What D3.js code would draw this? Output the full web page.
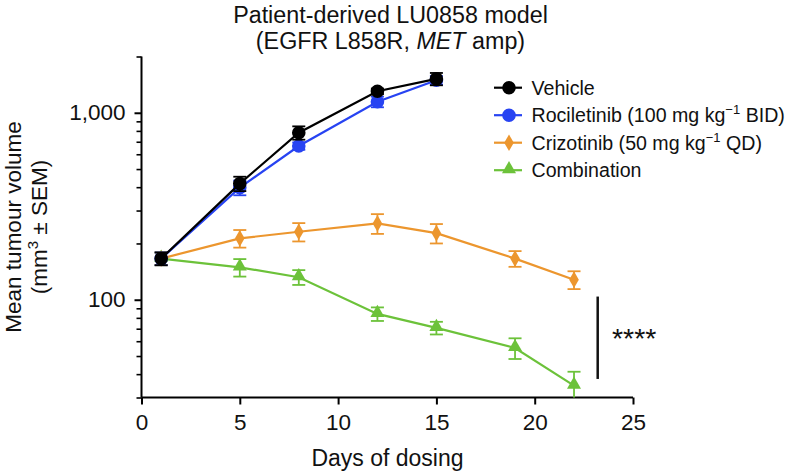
<!DOCTYPE html>
<html>
<head>
<meta charset="utf-8">
<script src="https://cdn.jsdelivr.net/npm/d3@7"></script>
<style>
  html, body { margin: 0; padding: 0; background: #fff; }
  svg { display: block; font-family: "Liberation Sans", Arial, Helvetica, sans-serif; }
</style>
</head>
<body>
<svg id="chart" width="788" height="472"></svg>
<script>
// ---- data ----
const days = [1, 5, 8, 12, 15, 19, 22];
const seriesNames = ["Vehicle", "Rociletinib", "Crizotinib", "Combination"];
const vehicle = [166, 418, 782, 1304, 1518];
const vehicleSem = [13, 37, 64, 45, 115];
const rociletinib = [166, 398, 664, 1145, 1493];
const rociletinibSem = [13, 36, 30, 75, 80];
const crizotinib = [166, 213, 231, 256, 227, 166, 128];
const crizotinibSem = [13, 23, 26, 31, 27, 16, 14];
const combination = [166, 149, 132, 84, 70.7, 55.2, 34.7];
const combinationSem = [13, 16, 12, 7, 5.5, 7, 6.5];
const xTicks = [0, 5, 10, 15, 20, 25];
const yMajorTicks = [100, 1000];
const yMinorTicks = [30, 40, 50, 60, 70, 80, 90, 200, 300, 400, 500, 600, 700, 800, 900, 2000];
const sigRange = [104, 37.7];

const svg = d3.select("#chart");
const x = d3.scaleLinear().domain([0, 25]).range([141.5, 633]);
const y = d3.scaleLog().domain([30, 2000]).range([397.5, 56.5]);

const colors = ["#000000", "#2743f2", "#ec962e", "#6cc23a"];
const series = [
  { name: seriesNames[0], vals: vehicle, sem: vehicleSem, color: colors[0], shape: "circle" },
  { name: seriesNames[1], vals: rociletinib, sem: rociletinibSem, color: colors[1], shape: "circle" },
  { name: seriesNames[2], vals: crizotinib, sem: crizotinibSem, color: colors[2], shape: "diamond" },
  { name: seriesNames[3], vals: combination, sem: combinationSem, color: colors[3], shape: "triangle" }
];

// ---- title ----
const title = svg.append("text").attr("text-anchor", "middle").attr("font-size", 23.3).attr("fill", "#111");
title.append("tspan").attr("x", 390.5).attr("y", 22.7).text("Patient-derived LU0858 model");
const t2 = title.append("tspan").attr("x", 390.5).attr("y", 48.5);
t2.append("tspan").text("(EGFR L858R, ");
t2.append("tspan").attr("font-style", "italic").text("MET");
t2.append("tspan").text(" amp)");

// ---- axes ----
const gx = svg.append("g").attr("transform", "translate(0,397.5)")
  .call(d3.axisBottom(x).tickValues(xTicks).tickSize(7).tickPadding(10).tickFormat(d3.format("d")));
gx.select(".domain").attr("stroke-width", 2).attr("d", `M${x(0)},0H${x(25)}`);
gx.selectAll(".tick line").attr("stroke-width", 2);
gx.selectAll(".tick text").attr("font-size", 22.5).attr("font-family", "Liberation Sans, Arial, sans-serif").attr("fill", "#111");

const gy = svg.append("g").attr("transform", "translate(141.5,0)")
  .call(d3.axisLeft(y).tickValues(yMajorTicks).tickSize(7).tickPadding(9).tickFormat(d3.format(",")));
gy.select(".domain").attr("stroke-width", 2).attr("d", `M0,${y(30)}V${y(2000)}`);
gy.selectAll(".tick line").attr("stroke-width", 2);
gy.selectAll(".tick text").attr("font-size", 22.5).attr("font-family", "Liberation Sans, Arial, sans-serif").attr("fill", "#111");
const gyMinor = svg.append("g").attr("transform", "translate(141.5,0)")
  .call(d3.axisLeft(y).tickValues(yMinorTicks).tickSize(5).tickFormat(""));
gyMinor.select(".domain").remove();
gyMinor.selectAll(".tick line").attr("stroke-width", 1.6);

// axis labels
svg.append("text").attr("x", 387.5).attr("y", 466).attr("text-anchor", "middle")
  .attr("font-size", 23).attr("fill", "#111").text("Days of dosing");
const yl = svg.append("text").attr("transform", "translate(0,227) rotate(-90)")
  .attr("text-anchor", "middle").attr("font-size", 22.5).attr("fill", "#111");
yl.append("tspan").attr("x", 0).attr("y", 20.5).text("Mean tumour volume");
const yl2 = yl.append("tspan").attr("x", 0).attr("y", 46.5);
yl2.append("tspan").text("(mm");
yl2.append("tspan").attr("font-size", 15).attr("dy", -9).text("3");
yl2.append("tspan").attr("dy", 9).text(" ± SEM)");

// ---- marks ----
const symbolFor = (shape) => {
  if (shape === "circle") return d3.symbol().type(d3.symbolCircle).size(Math.PI * 6.8 * 6.8);
  if (shape === "diamond") return d3.symbol().type(d3.symbolDiamond).size(80);
  return d3.symbol().type(d3.symbolTriangle).size(85);
};

const line = d3.line().x(d => x(d.day)).y(d => y(d.v));
const plot = svg.append("g");
[...series].reverse().forEach(s => {
  const pts = s.vals.map((v, i) => ({ day: days[i], v, sem: s.sem[i] }));
  const g = plot.append("g");
  // error bars
  const eb = g.selectAll("g.eb").data(pts).join("g");
  eb.append("line")
    .attr("x1", d => x(d.day)).attr("x2", d => x(d.day))
    .attr("y1", d => y(Math.max(30, d.v - d.sem))).attr("y2", d => y(d.v + d.sem))
    .attr("stroke", s.color).attr("stroke-width", 1.8);
  eb.append("line")
    .attr("x1", d => x(d.day) - 6.5).attr("x2", d => x(d.day) + 6.5)
    .attr("y1", d => y(d.v + d.sem)).attr("y2", d => y(d.v + d.sem))
    .attr("stroke", s.color).attr("stroke-width", 1.8);
  eb.filter(d => d.v - d.sem > 30).append("line")
    .attr("x1", d => x(d.day) - 6.5).attr("x2", d => x(d.day) + 6.5)
    .attr("y1", d => y(d.v - d.sem)).attr("y2", d => y(d.v - d.sem))
    .attr("stroke", s.color).attr("stroke-width", 1.8);
  g.append("path").datum(pts).attr("d", line).attr("fill", "none")
    .attr("stroke", s.color).attr("stroke-width", 2.2);
  g.selectAll("path.pt").data(pts).join("path").attr("class", "pt")
    .attr("transform", d => `translate(${x(d.day)},${y(d.v) + (s.shape === "triangle" ? -1 : 0)})`)
    .attr("d", symbolFor(s.shape)).attr("fill", s.color);
});

// significance
svg.append("line").attr("x1", 597.7).attr("x2", 597.7)
  .attr("y1", y(sigRange[0])).attr("y2", y(sigRange[1]))
  .attr("stroke", "#111").attr("stroke-width", 2.5);
svg.append("text").attr("x", 612).attr("y", 348).attr("font-size", 28.5).attr("fill", "#111").text("****");

// ---- legend ----
const legendLabels = [
  [{ t: "Vehicle" }],
  [{ t: "Rociletinib (100 mg kg" }, { t: "−1", sup: true }, { t: " BID)" }],
  [{ t: "Crizotinib (50 mg kg" }, { t: "−1", sup: true }, { t: " QD)" }],
  [{ t: "Combination" }]
];
const legend = svg.append("g");
series.forEach((s, i) => {
  const cy = 87.7 + i * 27.5;
  const g = legend.append("g");
  g.append("line").attr("x1", 494).attr("x2", 522).attr("y1", cy).attr("y2", cy)
    .attr("stroke", s.color).attr("stroke-width", 2.2);
  g.append("path").attr("transform", `translate(509,${cy + (s.shape === "triangle" ? -1 : 0)})`)
    .attr("d", symbolFor(s.shape)).attr("fill", s.color);
  const txt = g.append("text").attr("x", 531.5).attr("y", cy + 7).attr("font-size", 19.6).attr("fill", "#111");
  legendLabels[i].forEach(part => {
    if (part.sup) {
      txt.append("tspan").attr("font-size", 13).attr("dy", -8).text(part.t);
    } else {
      const tsp = txt.append("tspan").text(part.t);
      if (i > 0 && part.t.startsWith(" ")) tsp.attr("dy", 8);
    }
  });
});
</script>
</body>
</html>
